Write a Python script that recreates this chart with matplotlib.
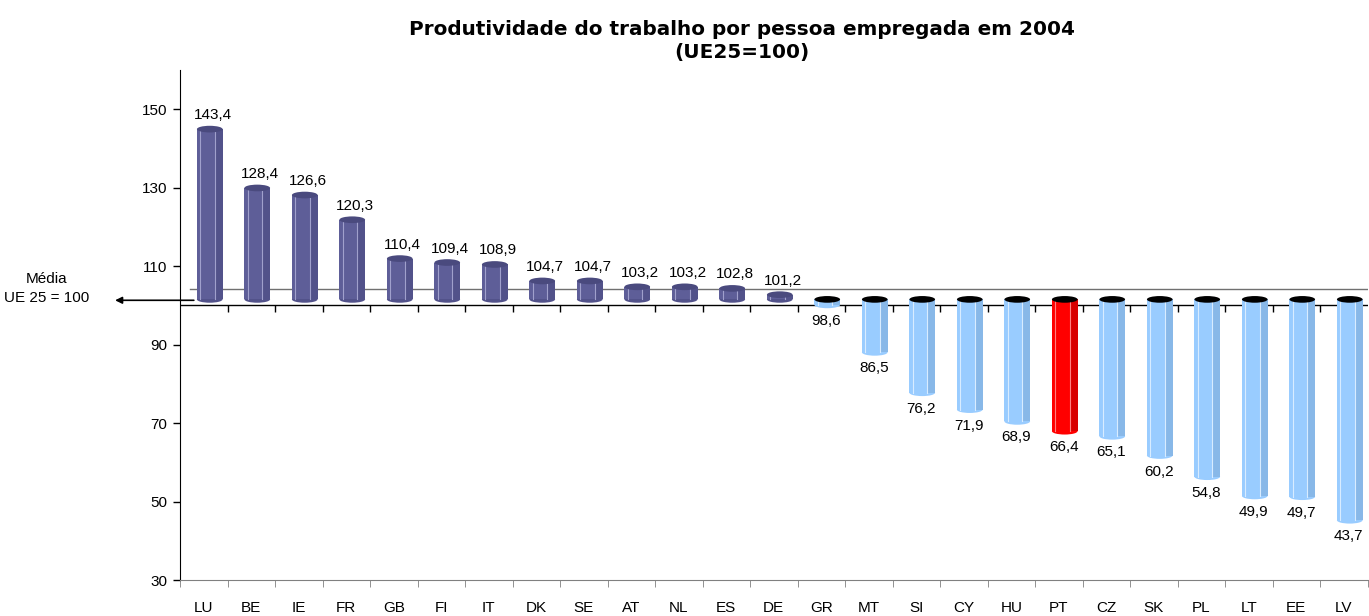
import numpy as np
import matplotlib
matplotlib.use("Agg")
import matplotlib.pyplot as plt
from matplotlib.patches import Rectangle, Ellipse
from matplotlib import transforms

# data
countries = ["LU", "BE", "IE", "FR", "GB", "FI", "IT", "DK", "SE", "AT", "NL", "ES", "DE",
             "GR", "MT", "SI", "CY", "HU", "PT", "CZ", "SK", "PL", "LT", "EE", "LV"]
values = [143.4, 128.4, 126.6, 120.3, 110.4, 109.4, 108.9, 104.7, 104.7, 103.2, 103.2, 102.8, 101.2,
          98.6, 86.5, 76.2, 71.9, 68.9, 66.4, 65.1, 60.2, 54.8, 49.9, 49.7, 43.7]
highlight = "PT"
base = 100
yticks = [30, 50, 70, 90, 110, 130, 150]

plt.rcParams['font.family'] = ['Liberation Sans', 'DejaVu Sans']

fig = plt.figure(figsize=(13.69, 6.16), dpi=100)
ax = fig.add_axes([180/1369, 1-580/616, 1187.5/1369, 510/616])
ax.set_xlim(-0.5, len(countries)-0.5)
ax.set_ylim(30, 160)

# 3D depth offset of the bars (in pixels)
off = transforms.offset_copy(ax.transData, fig, x=6, y=6, units='dots')

w = 0.54
eh = 1.7
for i, (c, v) in enumerate(zip(countries, values)):
    if v >= base:
        col, dark, top, hl = '#5E5E98', '#52528A', '#4A4A7E', '#A0A0CC'
    elif c == highlight:
        col, dark, top, hl = '#FF0000', '#D80000', '#000000', '#FF8080'
    else:
        col, dark, top, hl = '#99CCFF', '#88B8E8', '#000000', '#D8ECFF'
    lo, hi = min(v, base), max(v, base)
    # rounded bottom end
    ax.add_patch(Ellipse((i, lo), w, eh, facecolor=dark if v >= base else col,
                         edgecolor='none', transform=off, zorder=3))
    ax.add_patch(Rectangle((i-w/2, lo), w, hi-lo, facecolor=col, edgecolor='none',
                           transform=off, zorder=3))
    ax.add_patch(Rectangle((i+w*0.22, lo), w*0.28, hi-lo, facecolor=dark, edgecolor='none',
                           transform=off, zorder=3))
    for dx in (-0.38, 0.2):
        ax.plot([i+w*dx, i+w*dx], [lo, hi], color=hl, lw=0.8, transform=off, zorder=3)
    ax.add_patch(Ellipse((i, hi), w, eh, facecolor=top, edgecolor='none',
                         transform=off, zorder=4))
    # value label
    txt = f"{v:.1f}".replace('.', ',')
    if v >= base:
        ax.annotate(txt, (i, v), xytext=(9, 20), textcoords='offset pixels',
                    ha='center', va='center', fontsize=11, zorder=5)
    else:
        ax.annotate(txt, (i, v), xytext=(5, -10), textcoords='offset pixels',
                    ha='center', va='center', fontsize=11, zorder=5)

# average line and back wall line
ax.axhline(base, color='black', lw=1, zorder=2)
back = transforms.offset_copy(ax.transData, fig, x=0, y=16, units='dots')
ax.plot([-0.29, len(countries)-0.5], [base, base], color='#707070', lw=1,
        transform=back, zorder=1)
bounds = np.arange(0.5, len(countries)-0.5, 1)
ax.vlines(bounds, base-7/3.925, base, color='black', lw=1, zorder=2)

# axes styling
ax.spines['top'].set_visible(False)
ax.spines['right'].set_visible(False)
ax.spines['bottom'].set_color('#808080')
ax.set_yticks(yticks)
ax.tick_params(axis='y', length=5, width=1, labelsize=11, pad=4)
ax.set_xticks(range(len(countries)))
ax.set_xticklabels(countries)
ax.set_xticks(np.arange(-0.5, len(countries), 1), minor=True)
ax.tick_params(axis='x', which='major', length=0, labelsize=11, pad=15)
ax.tick_params(axis='x', which='minor', length=5, color='#808080')

# annotation for the average
ax.annotate('', xy=(-0.057, 101.3), xytext=(0.014, 101.3),
            xycoords=('axes fraction', 'data'), textcoords=('axes fraction', 'data'),
            arrowprops=dict(arrowstyle='-|>', color='black', lw=1.2, mutation_scale=10),
            annotation_clip=False)
ax.text(-0.112, 104.2, "Média\nUE 25 = 100", transform=transforms.blended_transform_factory(ax.transAxes, ax.transData),
        ha='center', va='center', fontsize=11, linespacing=1.45)

fig.text(741.5/1369, 1-41/616, "Produtividade do trabalho por pessoa empregada em 2004\n(UE25=100)",
         ha='center', va='center', fontsize=14.4, fontweight='bold', family='DejaVu Sans',
         linespacing=1.3)

fig.savefig("out.png", dpi=100)
